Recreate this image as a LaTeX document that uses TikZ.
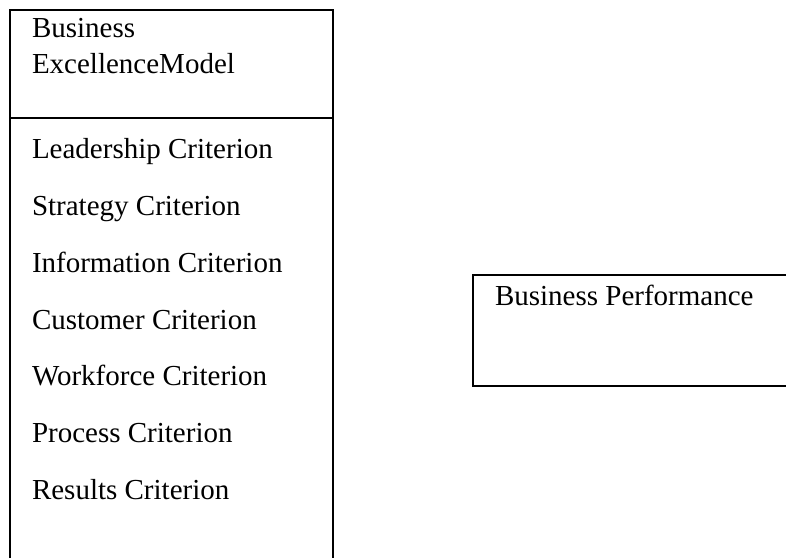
\documentclass[tikz,border=0pt]{standalone}
\usepackage{fontspec}
\setmainfont{Liberation Serif}
\begin{document}
\begin{tikzpicture}[x=1pt,y=-1pt,
  frame/.style={line width=2.5pt, line join=miter},
  label/.style={anchor=base west, inner sep=0pt, outer sep=0pt,
                font=\fontsize{29}{37}\selectfont}]
\useasboundingbox (0,0) rectangle (786,558);
% model box (runs past the lower edge)
\draw[frame] (10,558) -- (10,10) -- (333,10) -- (333,558);
\draw[frame] (10,118) -- (333,118);
% performance box (runs past the right edge)
\draw[frame] (786,275) -- (473,275) -- (473,386) -- (786,386);
% heading
\node[label] (h1) at (32,37) {Business};
\node[label] (h2) at (32,73) {ExcellenceModel};
% criteria
\node[label] (c1) at (32,158) {Leadership Criterion};
\node[label] (c2) at (32,215) {Strategy Criterion};
\node[label] (c3) at (32,272) {Information Criterion};
\node[label] (c4) at (32,329) {Customer Criterion};
\node[label] (c5) at (32,385) {Workforce Criterion};
\node[label] (c6) at (32,442) {Process Criterion};
\node[label] (c7) at (32,499) {Results Criterion};
% outcome
\node[label] (bp) at (495,305) {Business Performance};
\end{tikzpicture}
\end{document}
